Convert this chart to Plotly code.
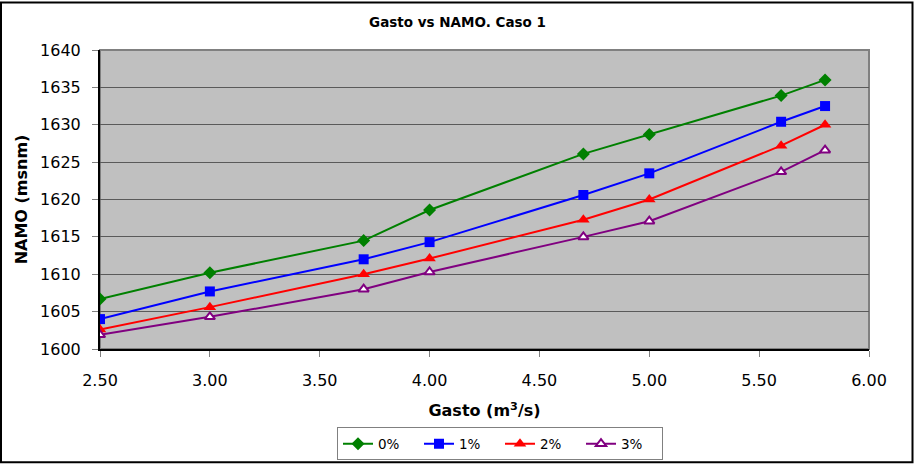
import plotly.graph_objects as go

gasto = [2.5, 3.0, 3.7, 4.0, 4.7, 5.0, 5.6, 5.8]
namo_0 = [1606.7, 1610.2, 1614.5, 1618.6, 1626.1, 1628.7, 1633.9, 1636.0]
namo_1 = [1604.0, 1607.7, 1612.0, 1614.3, 1620.6, 1623.5, 1630.4, 1632.5]
namo_2 = [1602.6, 1605.6, 1610.0, 1612.1, 1617.3, 1620.0, 1627.2, 1630.0]
namo_3 = [1601.9, 1604.3, 1608.0, 1610.3, 1615.0, 1617.1, 1623.7, 1626.6]
names = ["0%", "1%", "2%", "3%"]
x_ticks = [2.5, 3.0, 3.5, 4.0, 4.5, 5.0, 5.5, 6.0]
y_ticks = [1600, 1605, 1610, 1615, 1620, 1625, 1630, 1635, 1640]

W, H = 915, 472
L, R, T, B = 100, 46, 50, 117
FONT = "DejaVu Sans, Arial"

fig = go.Figure()
styles = [
    dict(color="#008000", symbol="diamond", size=10),
    dict(color="#0000FF", symbol="square", size=10),
    dict(color="#FF0000", symbol="triangle-up", size=11),
    dict(color="#800080", symbol="open", size=9),
]
for name, ys, st in zip(names, [namo_0, namo_1, namo_2, namo_3], styles):
    if st["symbol"] == "open":
        marker = dict(symbol="triangle-up", size=st["size"], color="white",
                      line=dict(color=st["color"], width=2))
    else:
        marker = dict(symbol=st["symbol"], size=st["size"], color=st["color"])
    fig.add_trace(go.Scatter(x=gasto, y=ys, name=name, mode="lines+markers",
                             line=dict(color=st["color"], width=2),
                             marker=marker))

pw = W - L - R
ph = H - T - B
def px(xp):
    return (xp - L) / pw
def py(yp):
    return (H - B - yp) / ph

shapes = [
    dict(type="rect", xref="paper", yref="paper", x0=px(1), x1=px(912.5), y0=py(470.5), y1=py(1.5),
         line=dict(color="black", width=2), fillcolor="rgba(0,0,0,0)", layer="above"),
    dict(type="rect", xref="paper", yref="paper", x0=0, x1=1, y0=0, y1=1,
         line=dict(color="#808080", width=2), fillcolor="rgba(0,0,0,0)", layer="below"),
]

fig.update_layout(
    width=W, height=H,
    margin=dict(l=L, r=R, t=T, b=B),
    paper_bgcolor="white",
    plot_bgcolor="#C0C0C0",
    font=dict(family=FONT, color="black"),
    title=dict(text="<b>Gasto vs NAMO. Caso 1</b>", x=0.5, xanchor="center", xref="container",
               y=1 - 22 / H, yanchor="middle", font=dict(size=13.5)),
    xaxis=dict(range=[2.5, 6.0], tickvals=x_ticks, ticktext=[f"{v:.2f}" for v in x_ticks],
               showgrid=False, zeroline=False, showline=True, linecolor="black", linewidth=2,
               ticks="outside", ticklen=6, tickcolor="#808080", tickfont=dict(size=16),
               ticklabelstandoff=10,
               title=dict(text="<b>Gasto (m<sup>3</sup>/s)</b>", font=dict(size=16), standoff=16)),
    yaxis=dict(range=[1600, 1640], tickvals=y_ticks, showgrid=True, gridcolor="#5a5a5a",
               gridwidth=1, zeroline=False, showline=True, linecolor="black", linewidth=2,
               ticks="outside", ticklen=6, tickcolor="#808080", tickfont=dict(size=16),
               ticklabelstandoff=8,
               title=dict(text="<b>NAMO (msnm)</b>", font=dict(size=16), standoff=8)),
    legend=dict(orientation="h", x=px(337), xanchor="left",
                y=py(435), yanchor="top", bordercolor="#808080", borderwidth=1,
                bgcolor="white", font=dict(size=13.5), entrywidth=36, entrywidthmode="pixels",
                tracegroupgap=0),
    showlegend=True,
    shapes=shapes,
)
post = (
    "var d=document.documentElement, b=document.body;"
    "d.style.margin='0'; b.style.margin='0'; b.style.padding='0';"
    "d.style.height='472px'; b.style.height='472px';"
    "d.style.overflow='hidden'; b.style.overflow='hidden';"
)
fig.write_html("out.html", config={"displayModeBar": False}, post_script=post)
